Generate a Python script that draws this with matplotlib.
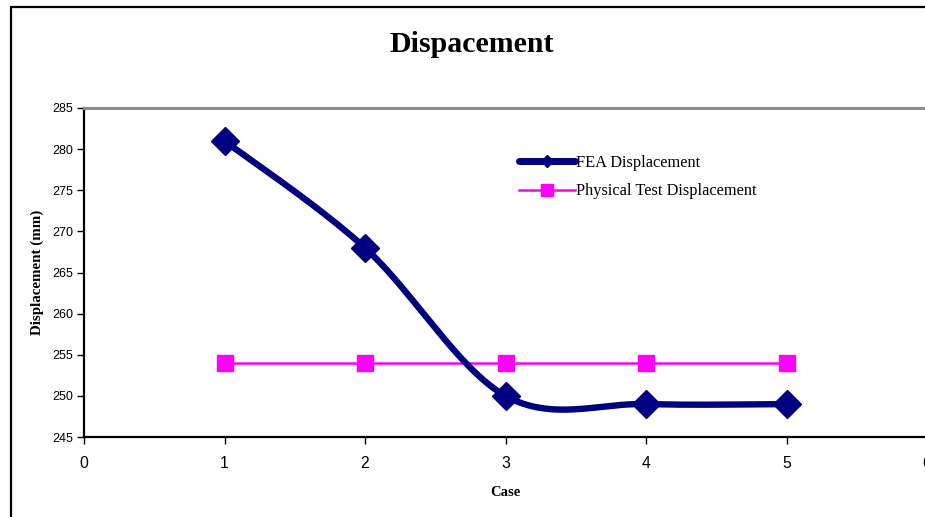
import numpy as np
import matplotlib
matplotlib.use("Agg")
import matplotlib.pyplot as plt
from matplotlib.patches import Rectangle
from matplotlib.lines import Line2D

# Data
cases = [1, 2, 3, 4, 5]
fea_displacement = [281, 268, 250, 249, 249]
physical_displacement = [254, 254, 254, 254, 254]
x_ticks = [0, 1, 2, 3, 4, 5, 6]
y_ticks = [245, 250, 255, 260, 265, 270, 275, 280, 285]


def smooth_curve(xs, ys, steps=40):
    """Cardinal (Catmull-Rom) spline through the points, like a smoothed office-chart line."""
    xs = np.asarray(xs, float)
    ys = np.asarray(ys, float)
    n = len(xs)
    px = np.concatenate([[xs[0]], xs, [xs[-1]]])
    py = np.concatenate([[ys[0]], ys, [ys[-1]]])
    out_x, out_y = [], []
    t = np.linspace(0, 1, steps)
    h00 = 2 * t**3 - 3 * t**2 + 1
    h10 = t**3 - 2 * t**2 + t
    h01 = -2 * t**3 + 3 * t**2
    h11 = t**3 - t**2
    for i in range(n - 1):
        j = i + 1
        mx0 = (px[j + 1] - px[j - 1]) / 2
        my0 = (py[j + 1] - py[j - 1]) / 2
        mx1 = (px[j + 2] - px[j]) / 2
        my1 = (py[j + 2] - py[j]) / 2
        out_x.append(h00 * px[j] + h10 * mx0 + h01 * px[j + 1] + h11 * mx1)
        out_y.append(h00 * py[j] + h10 * my0 + h01 * py[j + 1] + h11 * my1)
    return np.concatenate(out_x), np.concatenate(out_y)


W, H = 925, 517
fig = plt.figure(figsize=(W / 100, H / 100), dpi=100)
fig.patch.set_facecolor("white")

# Chart-area border (runs off the right and bottom edges)
fig.patches.append(Rectangle((11 / W, -0.1), 1.2, 1.1 - 7 / H,
                             transform=fig.transFigure, fill=False,
                             edgecolor="black", lw=1.6, clip_on=False))

ax_w, ax_h = 927 - 84, 437 - 108
ax = fig.add_axes([84 / W, (H - 437) / H, ax_w / W, ax_h / H])
ax.set_facecolor("white")

sx, sy = smooth_curve(cases, fea_displacement)
ax.plot(sx, sy, color="#000080", lw=4.6, solid_capstyle="round", zorder=3)
ax.plot(cases, fea_displacement, linestyle="none", marker="D", markersize=14,
        color="#000080", zorder=4)
ax.plot(cases, physical_displacement, color="#FF00FF", lw=1.8,
        marker="s", markersize=11, zorder=2)

ax.set_xlim(0, 6)
ax.set_ylim(245, 285)
ax.set_xticks(x_ticks)
ax.set_yticks(y_ticks)
ax.tick_params(axis="y", direction="out", length=5, width=1, pad=3,
               labelsize=9, colors="black")
ax.tick_params(axis="x", direction="out", length=5, width=1, pad=9,
               labelsize=11.3, colors="black")
for lab in ax.get_xticklabels() + ax.get_yticklabels():
    lab.set_fontfamily("Liberation Sans")

for side in ("left", "bottom"):
    ax.spines[side].set_color("black")
    ax.spines[side].set_linewidth(1.6)
for side in ("top", "right"):
    ax.spines[side].set_color("#8c8c8c")
    ax.spines[side].set_linewidth(2.2)

ax.set_xlabel("Case", fontfamily="Liberation Serif", fontweight="bold",
              fontsize=10.5)
ax.set_ylabel("Displacement (mm)", fontfamily="Liberation Serif",
              fontweight="bold", fontsize=10.8)
ax.xaxis.set_label_coords((505 - 84) / ax_w, -(492 - 437) / ax_h)
ax.yaxis.set_label_coords(-(84 - 37) / ax_w, (437 - 272) / ax_h)
ax.xaxis.label.set_va("center")
ax.yaxis.label.set_va("center")

fig.text(472 / W, 1 - 45 / H, "Dispacement", ha="center", va="center",
         fontfamily="Liberation Serif", fontweight="bold", fontsize=21.5)

# Legend entries styled like the series, with smaller markers
h1 = Line2D([], [], color="#000080", lw=5, marker="D", markersize=6,
            solid_capstyle="round")
h2 = Line2D([], [], color="#FF00FF", lw=1.8, marker="s", markersize=8)
leg = fig.legend([h1, h2], ["FEA Displacement", "Physical Test Displacement"],
                 loc="upper left", bbox_to_anchor=(519 / W, 1 - 155 / H),
                 frameon=False, prop={"family": "Liberation Serif", "size": 11.8},
                 handlelength=3.4, handletextpad=0.1, labelspacing=0.75,
                 borderpad=0, borderaxespad=0)

fig.savefig("out.png", dpi=100, facecolor="white")
